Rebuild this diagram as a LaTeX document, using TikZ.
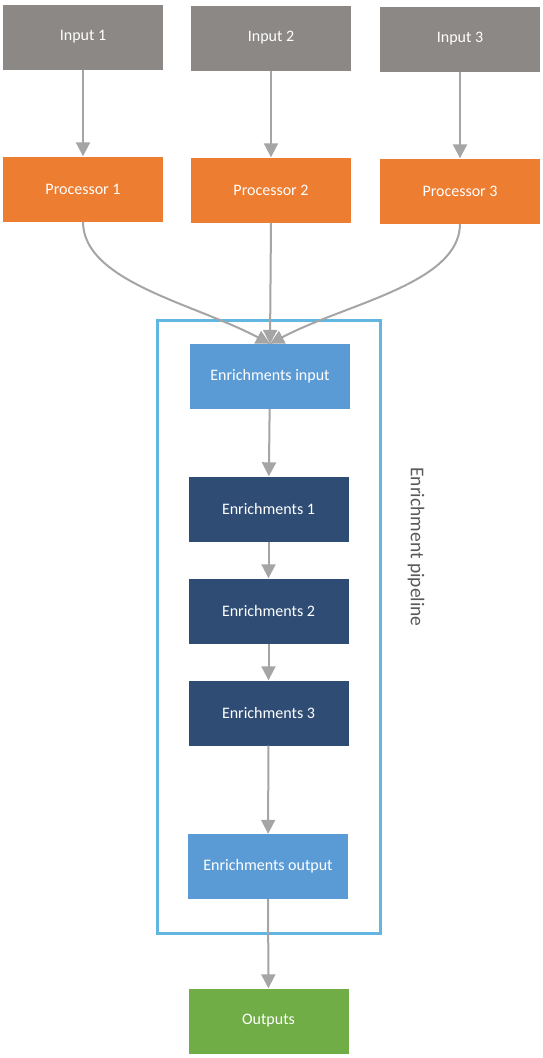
\documentclass[tikz,border=0pt]{standalone}
\usepackage{fontspec}
\setmainfont{Carlito}
\usetikzlibrary{arrows.meta}
\definecolor{inputgray}{HTML}{8B8885}
\definecolor{procorange}{HTML}{ED7D31}
\definecolor{enrichlight}{HTML}{5B9BD5}
\definecolor{enrichdark}{HTML}{2F4D74}
\definecolor{outgreen}{HTML}{70AD47}
\definecolor{pipeblue}{HTML}{62B6DF}
\definecolor{arrowgray}{HTML}{A5A5A5}
\definecolor{labelgray}{HTML}{595959}

\begin{document}
\begin{tikzpicture}[x=1pt,y=-1pt,>={Triangle[width=14pt,length=14pt]}]
        \tikzstyle{block}=[rectangle,minimum width=160pt,minimum height=65pt,inner sep=0pt,text=white,font=\fontsize{16}{19}\selectfont]
        \tikzstyle{input block}=[block, fill=inputgray];
        \tikzstyle{processor block}=[block, fill=procorange];
        \tikzstyle{io block}=[block, fill=enrichlight];
        \tikzstyle{enrich block}=[block, fill=enrichdark];
        \tikzstyle{output block}=[block, fill=outgreen];
        \tikzstyle{flow}=[->,line width=2pt,draw=arrowgray]
        \tikzstyle{annot}=[text=labelgray,font=\fontsize{19.5}{22}\selectfont]

        \useasboundingbox (0,0) rectangle (543,1058);

        % Draw the inputs and the processors below them
        \foreach \name / \x / \y in {1/83/37,2/271/38,3/460/39}
        {
            \node[input block] (I-\name) at (\x,\y) {Input \name};
            \node[processor block] (P-\name) at (\x,\y+152) {Processor \name};
            \draw[flow] (I-\name) -- (P-\name);
        }

        % Draw the enrichment pipeline
        \node[draw=pipeblue,line width=3pt,minimum width=223pt,minimum height=613pt,inner sep=0pt] (pipe) at (268.5,626.5) {};
        \node[io block] (E-in) at (270,376.5) {Enrichments input};
        \foreach \name / \y in {1/509,2/611,3/713}
            \node[enrich block] (E-\name) at (268.5,\y) {Enrichments \name};
        \node[io block] (E-out) at (268,866.5) {Enrichments output};
        \node[output block] (O) at (268.5,1021) {Outputs};

        % Connect the processors with the enrichments input
        \draw[flow] (P-1.south) .. controls +(0,60) and +(-75,-40) .. (E-in.north);
        \draw[flow] (P-2.south) -- (E-in.north);
        \draw[flow] (P-3.south) .. controls +(0,60) and +(75,-40) .. (E-in.north);

        % Connect the enrichment steps
        \draw[flow] (E-in) -- (E-1);
        \draw[flow] (E-1) -- (E-2);
        \draw[flow] (E-2) -- (E-3);
        \draw[flow] (E-3) -- (E-out);
        \draw[flow] (E-out) -- (O);

        % Annotate the pipeline
        \node[annot,rotate=-90] (pl) at (416,547) {Enrichment pipeline};
    \end{tikzpicture}
\end{document}
